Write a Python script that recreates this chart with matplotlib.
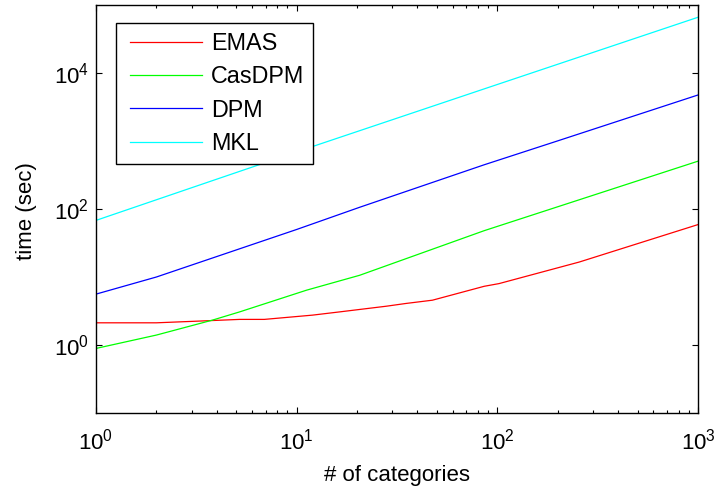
import numpy as np
import matplotlib
matplotlib.use('Agg')
import matplotlib.pyplot as plt
from matplotlib.ticker import LogLocator, NullLocator
from matplotlib.legend_handler import HandlerLine2D
from matplotlib.lines import Line2D

plt.rcParams['font.family'] = ['Liberation Sans', 'DejaVu Sans']
plt.rcParams['mathtext.fontset'] = 'custom'
plt.rcParams['mathtext.rm'] = 'Liberation Sans'
plt.rcParams['mathtext.it'] = 'Liberation Sans'

# values (x = # of categories, y = time in sec)
emas_x = [1, 2, 3.3, 5.2, 6.9, 12, 16.4, 28, 35, 47.5, 86, 102, 256, 1000]
emas_y = [2.12, 2.12, 2.25, 2.38, 2.38, 2.75, 3.07, 3.72, 4.08, 4.56, 7.3, 8.0, 16.6, 59]

casdpm_x = [1, 2, 3.8, 5.2, 11.2, 20.6, 86, 1000]
casdpm_y = [0.89, 1.40, 2.32, 3.07, 6.4, 10.6, 48, 505]

dpm_x = [1, 2, 4, 10, 20.6, 86, 199, 1000]
dpm_y = [5.6, 10, 20, 50, 106, 447, 1000, 4750]

mkl_x = [1, 3.8, 12.3, 89, 1000]
mkl_y = [68, 261, 850, 6040, 66000]

fig = plt.figure(figsize=(7.17, 4.87), dpi=100)
ax = fig.add_axes([96/717, 74/487, 602/717, 408/487])

lw = 0.9
ax.plot(emas_x, emas_y, color=(1, 0, 0), lw=lw, label='EMAS')
ax.plot(casdpm_x, casdpm_y, color=(0, 1, 0), lw=lw, label='CasDPM')
ax.plot(dpm_x, dpm_y, color=(0, 0, 1), lw=lw, label='DPM')
ax.plot(mkl_x, mkl_y, color=(0, 1, 1), lw=lw, label='MKL')

ax.set_xscale('log')
ax.set_yscale('log')
ax.set_xlim(1, 1000)
ax.set_ylim(0.1, 1e5)
ax.set_yticks([1, 100, 10000])
ax.yaxis.set_minor_locator(NullLocator())
ax.xaxis.set_minor_locator(LogLocator(base=10, subs=np.arange(2, 10), numticks=20))

ax.tick_params(which='both', direction='in', top=True, right=True, labelsize=16)
ax.tick_params(which='major', length=4, width=0.8)
ax.tick_params(which='minor', length=2, width=0.8)
ax.tick_params(axis='x', which='major', pad=11)
ax.tick_params(axis='y', which='major', pad=5)
for s in ax.spines.values():
    s.set_linewidth(1.0)

ax.set_xlabel('# of categories', fontsize=16, va='center')
ax.xaxis.set_label_coords(0.5, -0.152)
ax.set_ylabel('time (sec)', fontsize=16, va='center')
ax.yaxis.set_label_coords(-0.115, 0.495)

leg = ax.legend(loc='upper left', bbox_to_anchor=(0.0327, 0.956), borderaxespad=0,
                fontsize=16.8, fancybox=False, edgecolor='black', framealpha=1,
                handlelength=3.3, handletextpad=0.39, borderpad=0.39, labelspacing=0.44,
                handler_map={Line2D: HandlerLine2D(xpad=0.22)})
leg.get_frame().set_linewidth(1.0)

fig.savefig('out.png', dpi=100)
